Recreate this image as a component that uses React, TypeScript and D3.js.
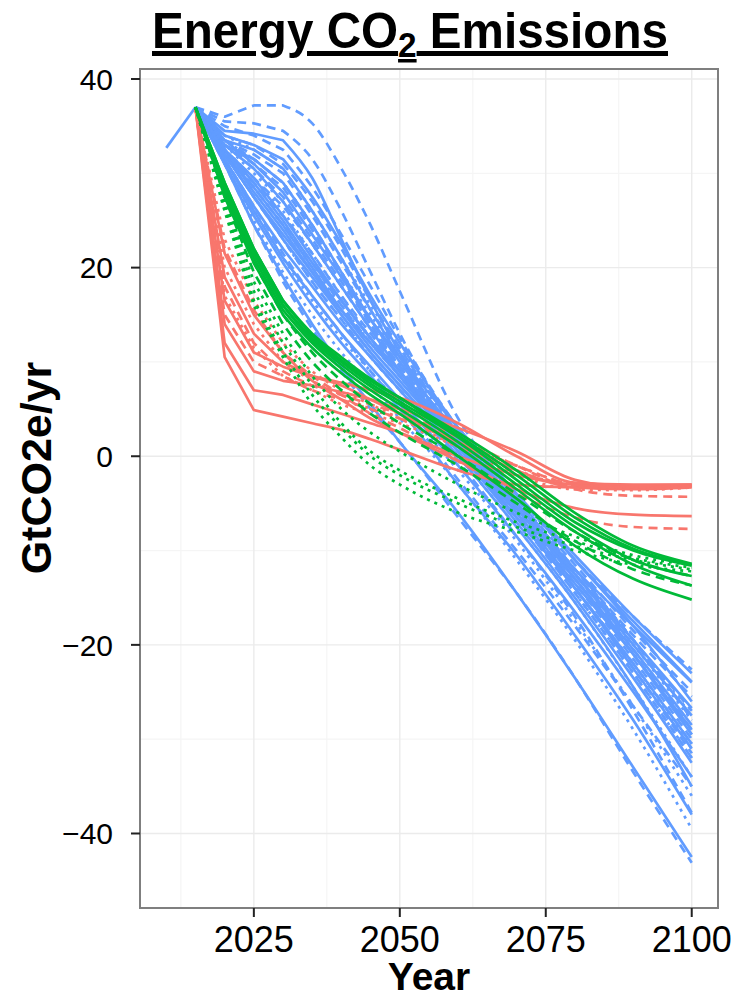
import React from "react";
import * as d3 from "d3";

const YEARS = [2015, 2020, 2025, 2030, 2035, 2040, 2045, 2050, 2060, 2070, 2080, 2090, 2100];
const HIST_YEARS = [2010, 2015];
const HIST_VALUES = [32.7, 37];

// Blue scenarios
const blueSolid = [
  [37, 34.5, 34.2, 33.5, 29.5, 23, 16.5, 11, 1.5, -5.5, -12.5, -19.5, -26.7],
  [37, 33.5, 32.5, 30.5, 26, 21, 15.5, 10.5, 2, -5, -12, -18, -24],
  [37, 33, 31.5, 29, 24.5, 19.5, 14.5, 10, 2.5, -4, -11, -17.5, -23.9],
  [37, 33, 30.5, 27, 22.5, 18, 13.5, 9, 1.5, -5.5, -13, -20.5, -28.5],
  [37, 32.5, 29.5, 25.5, 21, 16.5, 12.5, 8.5, 1, -6.5, -14, -22, -30.5],
  [37, 32, 28.5, 24.5, 20, 15.5, 11.5, 8, 1, -6, -13.5, -21, -29],
  [37, 32, 27.5, 23, 19, 15, 11, 7.5, 0.5, -7, -15, -23.5, -32.5],
  [37, 31.5, 26.5, 22, 18, 14, 10.5, 7, 0, -7.5, -15.5, -24.5, -35],
  [37, 31, 25.5, 20.5, 16, 12, 8.5, 5, -3, -10.5, -19, -28, -38],
  [37, 31, 24.5, 19, 14, 9.5, 5.5, 1.5, -6, -14.5, -23.5, -33, -42.5],
  [37, 33.5, 31, 28, 23.5, 19, 14.5, 10.5, 3, -4, -11, -18, -26],
  [37, 32.5, 29, 25, 20.5, 16.5, 12.5, 9, 2, -5, -12.5, -20, -27.5],
  [37, 32, 27.5, 23.5, 19.5, 15.5, 12, 8.5, 1.5, -5.5, -13, -21, -29.5],
  [37, 34, 33, 31.5, 27.5, 22.5, 17, 12, 3, -4, -10.5, -17, -23],
  [37, 31.5, 26, 21, 17, 13, 9.5, 6, -1, -8.5, -16.5, -25, -34],
  [37, 32.5, 28, 24, 19.5, 15, 11, 7.5, 0.5, -6.5, -14, -22.5, -31],
];
const blueDashed = [
  [37, 36, 37.2, 37.2, 35.3, 30.5, 24.5, 17.5, 4, -4, -11, -17, -22.6],
  [37, 35.5, 35.3, 34.5, 31.5, 26, 19.5, 13, 2.5, -5, -12, -19, -25.5],
  [37, 33.5, 32, 30, 25.5, 20.5, 15.5, 11, 3, -4.5, -12, -19.5, -27.9],
  [37, 33, 30.5, 27.5, 23, 18.5, 14, 9.5, 2, -5.5, -13.5, -21.5, -30],
  [37, 32.5, 29, 25.5, 21.5, 17, 13, 9, 1.5, -6, -14, -22.5, -31.5],
  [37, 32, 27.5, 23, 18.5, 14.5, 10.5, 7, -0.5, -8.5, -17, -27, -37.8],
  [37, 31, 24.5, 18.5, 13.5, 9, 5, 1.5, -6.5, -14.5, -23.5, -33.5, -43.1],
  [37, 33.5, 31.5, 29, 24.5, 19.5, 14.5, 10, 2, -5, -12, -19.5, -27],
  [37, 32.5, 28.5, 24.5, 20.5, 16, 12, 8.5, 1, -6.5, -14.5, -23, -32],
  [37, 34, 33, 31, 27, 22, 16.5, 11.5, 2.5, -5, -12.5, -20.5, -29],
  [37, 31.5, 26.5, 21.5, 17, 13, 9, 5.5, -2.5, -10, -18, -26.5, -35],
  [37, 32.5, 29.5, 26.5, 22.5, 18, 13.5, 9.5, 2, -5.5, -13, -21, -29.5],
  [37, 33, 31, 28.5, 24, 19, 14, 9.5, 1.5, -6, -14, -22, -30.5],
  [37, 35, 34, 32.5, 28.5, 23.5, 18, 12.5, 3, -4.5, -11.5, -18.5, -25],
];
const blueDotted = [
  [37, 33, 30, 27, 22.5, 18, 13.5, 9.5, 2, -5.5, -13, -21, -29],
  [37, 32.5, 28.5, 24.5, 20, 16, 12, 8.5, 1, -6.5, -14.5, -23, -32],
  [37, 31.5, 26, 21, 16.5, 12.5, 9, 5.5, -1.5, -9, -17.5, -26.5, -36],
  [37, 33.5, 31.5, 29, 24.5, 19.5, 15, 10.5, 2.5, -5, -12.5, -20, -28],
  [37, 32, 27.5, 23, 18.5, 14.5, 10.5, 7, 0, -7.5, -15.5, -24.5, -34],
  [37, 31, 25, 19.5, 15, 11, 7.5, 4, -3, -11, -19.5, -29, -39.5],
  [37, 32.5, 29.5, 26, 21.5, 17, 12.5, 8.5, 1.5, -6, -14, -22, -31],
  [37, 34, 32.5, 30.5, 26, 21, 16, 11.5, 3, -4.5, -12, -19.5, -27.5],
];

// Red scenarios
const redSolid = [
  [37, 10.5, 4.9, 4.2, 3.5, 2.8, 1.8, 0.7, -1.5, -3, -3.3, -3.1, -3.0],
  [37, 12, 7, 6.5, 5.5, 4.5, 3.5, 2.5, 0, -2, -3, -3.2, -3.1],
  [37, 14, 9, 8, 7.5, 6.8, 6, 5, 3, 0.5, -2.5, -3.3, -3.1],
  [37, 16.5, 11, 9.5, 8.5, 7.8, 7, 6.2, 3.5, 0, -2.8, -3, -3],
  [37, 19, 13, 10, 8.5, 7.5, 6, 4.5, 1.5, -1.5, -3.3, -3.5, -3.3],
  [37, 21.5, 15, 11, 8, 6, 4, 2.5, -0.5, -3.5, -5.5, -6.2, -6.35],
];
const redDashed = [
  [37, 18, 12, 9, 7.5, 6.5, 5.5, 4.5, 2, -1, -3.5, -4.2, -4.3],
  [37, 22, 15.5, 11, 8.5, 6.5, 4.5, 3, -0.5, -4, -6.5, -7.5, -7.7],
  [37, 15, 10, 8.5, 7, 6, 5, 4, 1.5, -1, -3, -3.3, -3.2],
];
const redDotted = [
  [37, 20, 14, 10, 8, 6.5, 5, 4, 1.5, -1, -3, -3.3, -3.1],
  [37, 17, 11.5, 8.5, 7, 5.5, 4.5, 3.5, 1, -1.5, -3.2, -3.4, -3.2],
  [37, 23, 16.5, 12, 9, 7, 5.5, 4, 1, -2, -3.5, -3.6, -3.3],
];

// Green scenarios
const greenSolid = [
  [37, 29, 22, 16.5, 12.8, 10.2, 8, 6.2, 2.5, -1.5, -6, -9.5, -11.4],
  [37, 28.5, 21.5, 16, 12.5, 10, 7.7, 5.8, 2, -2.5, -7, -10, -11.6],
  [37, 28, 21, 15.5, 12, 9.3, 7, 5, 1, -3.5, -8, -11.5, -13.7],
  [37, 28.5, 21.5, 16, 12.3, 9.7, 7.4, 5.5, 1.5, -3, -7.5, -11, -12.7],
  [37, 27.5, 20.5, 15, 11.5, 8.8, 6.5, 4.5, 0, -4.5, -9.5, -13, -15.2],
  [37, 29, 22, 16.5, 13, 10.5, 8.2, 6.2, 2.2, -2, -6.5, -9.8, -11.5],
];
const greenDotted = [
  [37, 27, 17.5, 12, 7.5, 3.5, 0.5, -1.5, -4.5, -7, -9, -10.8, -11.8],
  [37, 26.5, 16.5, 11, 6.5, 3, 0, -2, -5, -7.5, -9.5, -11, -12],
  [37, 27.5, 18.5, 13, 8.5, 5, 2.5, 0.5, -3, -6, -8.5, -10.5, -11.5],
  [37, 26, 16, 10.5, 5.5, 2, -1, -3, -6, -8, -10, -11.5, -12.2],
];
const greenDashed = [
  [37, 28, 20.5, 15, 11, 8, 5.5, 3.5, 0, -4, -8, -11, -12.7],
  [37, 27.5, 19.5, 14, 10, 7, 4.5, 2.5, -1, -5, -9, -12, -13.7],
];

const X_TICKS = [2025, 2050, 2075, 2100];
const X_MINOR = [2012.5, 2037.5, 2062.5, 2087.5];
const Y_TICKS = [-40, -20, 0, 20, 40];
const Y_MINOR = [-30, -10, 10, 30];

const BLUE = "#619CFF";
const RED = "#F8766D";
const GREEN = "#00BA38";
const DASH: Record<string, string | undefined> = {
  solid: undefined,
  dashed: "9,6",
  dotted: "3,5",
};

export default function App() {
  const W = 735, H = 999;
  const L = 140, R = 718, T = 69, B = 908;
  const x = d3.scaleLinear().domain([2005.5, 2104.5]).range([L, R]);
  const y = d3.scaleLinear().domain([-47.9, 41.06]).range([B, T]);
  const lin = d3
    .line<[number, number]>()
    .x((d) => x(d[0]))
    .y((d) => y(d[1]));
  const smooth = d3
    .line<[number, number]>()
    .x((d) => x(d[0]))
    .y((d) => y(d[1]))
    .curve(d3.curveMonotoneX);

  const pathFor = (vals: number[]) => {
    const pts = YEARS.map((yr, j) => [yr, vals[j]] as [number, number]);
    const early = pts.slice(0, 4);
    const late = pts.slice(3);
    const a = lin(early) || "";
    const b = (smooth(late) || "").replace(/^M[^CLZ]*/, "");
    return a + b;
  };

  const groups: { data: number[][]; color: string; type: string }[] = [
    { data: blueSolid, color: BLUE, type: "solid" },
    { data: blueDashed, color: BLUE, type: "dashed" },
    { data: blueDotted, color: BLUE, type: "dotted" },
    { data: redSolid, color: RED, type: "solid" },
    { data: redDashed, color: RED, type: "dashed" },
    { data: redDotted, color: RED, type: "dotted" },
    { data: greenSolid, color: GREEN, type: "solid" },
    { data: greenDotted, color: GREEN, type: "dotted" },
    { data: greenDashed, color: GREEN, type: "dashed" },
  ];

  const font = "'Liberation Sans', Arial, sans-serif";

  return (
    <svg
      width={W}
      height={H}
      style={{ position: "absolute", left: 0, top: 0, display: "block", background: "#fff" }}
      fontFamily={font}
    >
      <rect x={0} y={0} width={W} height={H} fill="#fff" />
      {X_MINOR.map((v) => (
        <line key={"xm" + v} x1={x(v)} x2={x(v)} y1={T} y2={B} stroke="#F5F5F5" strokeWidth={1.2} />
      ))}
      {Y_MINOR.map((v) => (
        <line key={"ym" + v} x1={L} x2={R} y1={y(v)} y2={y(v)} stroke="#F5F5F5" strokeWidth={1.2} />
      ))}
      {X_TICKS.map((v) => (
        <line key={"xg" + v} x1={x(v)} x2={x(v)} y1={T} y2={B} stroke="#EBEBEB" strokeWidth={1.4} />
      ))}
      {Y_TICKS.map((v) => (
        <line key={"yg" + v} x1={L} x2={R} y1={y(v)} y2={y(v)} stroke="#EBEBEB" strokeWidth={1.4} />
      ))}

      <g fill="none" strokeWidth={2.7} strokeLinejoin="round">
        <path
          d={lin(HIST_YEARS.map((yr, i) => [yr, HIST_VALUES[i]]) as [number, number][]) || ""}
          stroke={BLUE}
        />
        {groups.map((g, gi) =>
          g.data.map((vals, i) => (
            <path
              key={gi + "-" + i}
              d={pathFor(vals)}
              stroke={g.color}
              strokeDasharray={DASH[g.type]}
            />
          ))
        )}
      </g>

      <rect x={L} y={T} width={R - L} height={B - T} fill="none" stroke="#7F7F7F" strokeWidth={2} />

      {Y_TICKS.map((v) => (
        <g key={"yt" + v}>
          <line x1={L - 9} x2={L} y1={y(v)} y2={y(v)} stroke="#222" strokeWidth={2} />
          <text x={L - 27} y={y(v)} dy="0.36em" textAnchor="end" fontSize={30} fill="#000">
            {v < 0 ? "\u2212" + Math.abs(v) : String(v)}
          </text>
        </g>
      ))}
      {X_TICKS.map((v) => (
        <g key={"xt" + v}>
          <line x1={x(v)} x2={x(v)} y1={B} y2={B + 9} stroke="#222" strokeWidth={2} />
          <text x={x(v)} y={952} textAnchor="middle" fontSize={36} fill="#000">
            {v}
          </text>
        </g>
      ))}

      <text x={429} y={990} textAnchor="middle" fontSize={39} fontWeight="bold" fill="#000">
        Year
      </text>
      <text
        transform="translate(51,468) rotate(-90)"
        textAnchor="middle"
        fontSize={43}
        fontWeight="bold"
        fill="#000"
      >
        GtCO2e/yr
      </text>

      <text
        x={410}
        y={48}
        textAnchor="middle"
        fontSize={50}
        fontWeight="bold"
        fill="#000"
        textDecoration="underline"
        textLength={516}
        lengthAdjust="spacingAndGlyphs"
      >
        <tspan>Energy CO</tspan>
        <tspan fontSize={35} dy={9}>2</tspan>
        <tspan dy={-9}> Emissions</tspan>
      </text>
    </svg>
  );
}
